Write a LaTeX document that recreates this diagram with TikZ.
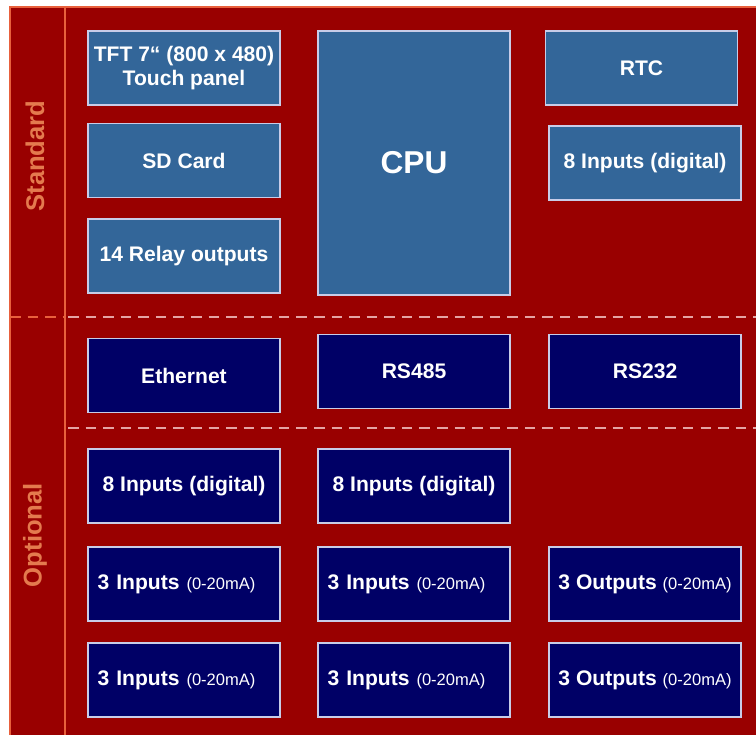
\documentclass[tikz,border=0pt]{standalone}
\usepackage{fontspec}
\setmainfont{Liberation Sans}
\usepackage{xcolor}
\definecolor{bgred}{HTML}{990000}
\definecolor{edgeorange}{HTML}{E8603C}
\definecolor{labelorange}{HTML}{E47A4E}
\definecolor{dashpink}{HTML}{E4A4A4}
\definecolor{stdblue}{HTML}{336699}
\definecolor{optnavy}{HTML}{000066}
\definecolor{boxedge}{HTML}{C8CCE8}
\newcommand{\currange}{{\fontsize{9.4}{11}\selectfont\mdseries (0-20mA)}}
\tikzset{
    modbox/.style = {rectangle, draw = boxedge, line width = 0.7pt, inner sep = 0pt,
        minimum width = 3.84cm, minimum height = 1.48cm, text = white,
        font = \fontsize{12}{13.5}\selectfont\bfseries, align = center},
    stdbox/.style = {modbox, fill = stdblue},
    optbox/.style = {modbox, fill = optnavy},
    anabox/.style = {optbox, text width = 3.46cm, align = left},
    sidelabel/.style = {rotate = 90, text = labelorange, font = \fontsize{14.6}{17}\selectfont\bfseries},
    sepline/.style = {dashed, dash pattern = on 6pt off 4pt, line width = 1.1pt}
}

\begin{document}
\begin{tikzpicture}[x = 0.02cm, y = -0.02cm]
        \useasboundingbox[fill = white] (0, 0) rectangle (756, 735);
        \fill[bgred] (10, 7) rectangle (756, 735);
        \draw[edgeorange, line width = 0.6pt] (10, 735) -- (10, 7) -- (756, 7);
        \draw[edgeorange, line width = 0.6pt] (65, 7) -- (65, 735);
        \draw[sepline, edgeorange] (10, 317) -- (65, 317);
        \draw[sepline, dashpink] (68, 317) -- (756, 317);
        \draw[sepline, dashpink] (68, 428) -- (756, 428);

        \node[sidelabel] (standard) at (35, 156) {Standard};
        \node[sidelabel] (optional) at (35, 535) {Optional};

        \node[stdbox] (tft) at (184, 68) {TFT 7“ (800 x 480)\\Touch panel};
        \node[stdbox] (sdcard) at (184, 160.5) {SD Card};
        \node[stdbox] (relay) at (184, 256) {14 Relay outputs};
        \node[stdbox, minimum height = 5.28cm, font = \fontsize{18}{20}\selectfont\bfseries] (cpu) at (414, 163) {CPU};
        \node[stdbox] (rtc) at (641.5, 68) {RTC};
        \node[stdbox] (diginstd) at (645, 163) {8 Inputs (digital)};

        \node[optbox] (ethernet) at (184, 375.5) {Ethernet};
        \node[optbox] (rsfour) at (414, 371.5) {RS485};
        \node[optbox] (rstwo) at (645, 371.5) {RS232};

        \node[optbox] (diginA) at (184, 486) {8 Inputs (digital)};
        \node[optbox] (diginB) at (414, 486) {8 Inputs (digital)};

        \node[anabox] (aninA) at (184, 584) {\mbox{3 Inputs \currange}};
        \node[anabox] (aninB) at (414, 584) {\mbox{3 Inputs \currange}};
        \node[optbox] (anoutA) at (645, 584) {3 Outputs \currange};
        \node[anabox] (aninC) at (184, 680) {\mbox{3 Inputs \currange}};
        \node[anabox] (aninD) at (414, 680) {\mbox{3 Inputs \currange}};
        \node[optbox] (anoutB) at (645, 680) {3 Outputs \currange};
    \end{tikzpicture}
\end{document}
